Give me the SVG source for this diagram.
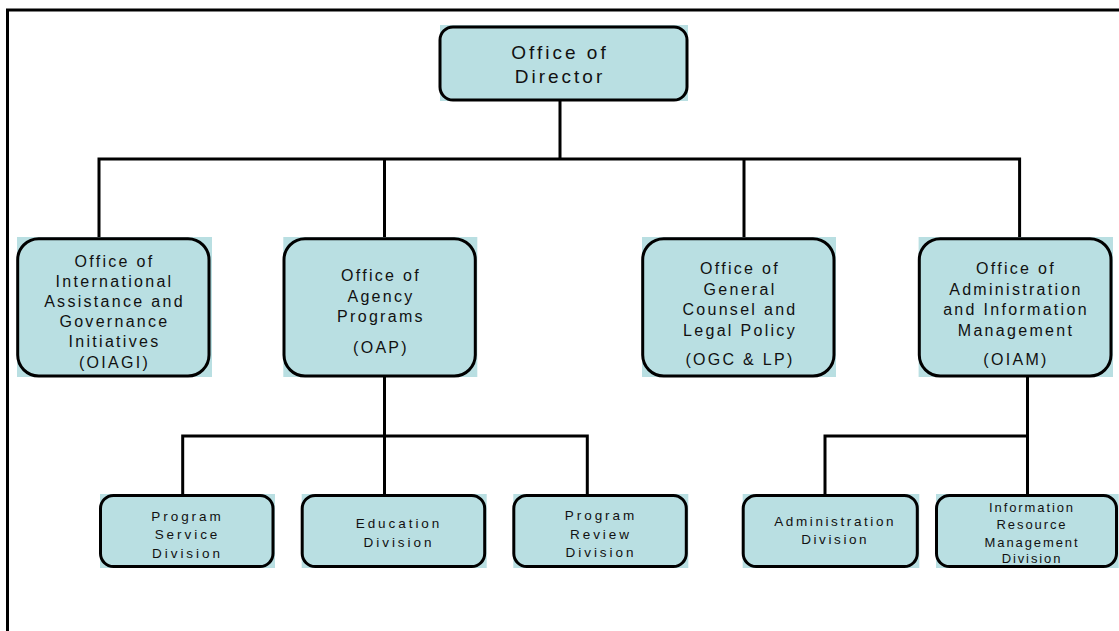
<svg xmlns="http://www.w3.org/2000/svg" width="1119" height="631" viewBox="0 0 1119 631">
<style>
.fill{fill:#B9DFE2;stroke:none}
.bd{fill:none;stroke:#000;stroke-width:3}
.ln{fill:none;stroke:#000;stroke-width:3;stroke-linecap:square}
text{font-family:"Liberation Sans",Arial,sans-serif;fill:#111;text-anchor:middle}
.t1{font-size:19px;letter-spacing:3px}
.t2{font-size:16px;letter-spacing:2.3px}
.t3{font-size:13.5px;letter-spacing:2.95px}
.t4{font-size:13px;letter-spacing:1.9px}
</style>
<rect x="7.5" y="10" width="1130" height="640" fill="none" stroke="#000" stroke-width="3"/>
<g id="connectors">
<path class="ln" d="M560 101V159M99 159H1019.6M99 159V238M384.5 159V238M744 159V238M1019.6 159V238"/>
<path class="ln" d="M384.5 377V494M182.7 436H587.3M182.7 436V494M587.3 436V494"/>
<path class="ln" d="M1027.5 377V494M825 436H1027.5M825 436V494"/>
</g>
<g id="director">
<rect class="fill" x="440" y="25" width="248" height="76"/>
<rect class="bd" x="440" y="27" width="247" height="73" rx="13"/>
<text class="t1" x="560" y="59">Office of</text>
<text class="t1" x="560" y="83.3">Director</text>
</g>
<g id="oiagi">
<rect class="fill" x="17" y="237" width="195" height="140"/>
<rect class="bd" x="17.7" y="238.7" width="191.3" height="137.3" rx="21"/>
<text class="t2" x="114.5" y="266.7">Office of</text>
<text class="t2" x="114.5" y="286.7">International</text>
<text class="t2" x="114.5" y="306.7">Assistance and</text>
<text class="t2" x="114.5" y="326.7">Governance</text>
<text class="t2" x="114.5" y="346.7">Initiatives</text>
<text class="t2" x="114.5" y="367.7">(OIAGI)</text>
</g>
<g id="oap">
<rect class="fill" x="283.3" y="237" width="194" height="140"/>
<rect class="bd" x="284" y="238.7" width="191.3" height="137.3" rx="21"/>
<text class="t2" x="381" y="281">Office of</text>
<text class="t2" x="381" y="301.5">Agency</text>
<text class="t2" x="381" y="322">Programs</text>
<text class="t2" x="381" y="353">(OAP)</text>
</g>
<g id="ogc">
<rect class="fill" x="642" y="237" width="194" height="140"/>
<rect class="bd" x="642.7" y="238.7" width="191.3" height="137.3" rx="21"/>
<text class="t2" x="740" y="274">Office of</text>
<text class="t2" x="740" y="294.5">General</text>
<text class="t2" x="740" y="315">Counsel and</text>
<text class="t2" x="740" y="335.5">Legal Policy</text>
<text class="t2" x="740" y="365">(OGC &amp; LP)</text>
</g>
<g id="oiam">
<rect class="fill" x="918.6" y="237" width="194.4" height="140"/>
<rect class="bd" x="919.3" y="238.7" width="191.7" height="137.3" rx="21"/>
<text class="t2" x="1016" y="274">Office of</text>
<text class="t2" x="1016" y="294.5">Administration</text>
<text class="t2" x="1016" y="315">and Information</text>
<text class="t2" x="1016" y="335.5">Management</text>
<text class="t2" x="1016" y="365">(OIAM)</text>
</g>
<g id="psd">
<rect class="fill" x="100" y="494" width="175" height="74"/>
<rect class="bd" x="100.5" y="495.5" width="172.5" height="71" rx="13"/>
<text class="t3" x="187.5" y="520.5">Program</text>
<text class="t3" x="187.5" y="539">Service</text>
<text class="t3" x="187.5" y="557.5">Division</text>
</g>
<g id="edu">
<rect class="fill" x="301.7" y="494" width="185" height="74"/>
<rect class="bd" x="302.2" y="495.5" width="182.5" height="71" rx="13"/>
<text class="t3" x="399" y="527.7">Education</text>
<text class="t3" x="399" y="546.7">Division</text>
</g>
<g id="prd">
<rect class="fill" x="513.3" y="494" width="175" height="74"/>
<rect class="bd" x="513.8" y="495.5" width="172.5" height="71" rx="13"/>
<text class="t3" x="601" y="520">Program</text>
<text class="t3" x="601" y="538.5">Review</text>
<text class="t3" x="601" y="557">Division</text>
</g>
<g id="admin">
<rect class="fill" x="742.7" y="494" width="176.6" height="74"/>
<rect class="bd" x="743.2" y="495.5" width="174.1" height="71" rx="13"/>
<text class="t3" x="835.2" y="526" style="letter-spacing:2.6px">Administration</text>
<text class="t3" x="835.2" y="544" style="letter-spacing:2.6px">Division</text>
</g>
<g id="irm">
<rect class="fill" x="936" y="494" width="182.7" height="74"/>
<rect class="bd" x="936.5" y="495.5" width="180" height="71" rx="13"/>
<text class="t4" x="1032" y="511.7">Information</text>
<text class="t4" x="1032" y="529">Resource</text>
<text class="t4" x="1032" y="546.7">Management</text>
<text class="t4" x="1032" y="563.3">Division</text>
</g>
</svg>
